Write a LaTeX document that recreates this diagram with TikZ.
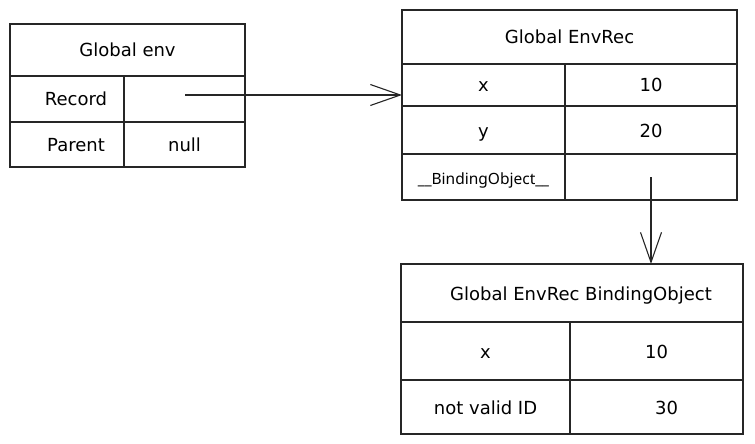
\documentclass[tikz,border=0pt]{standalone}
\usepackage{fontspec}
\setmainfont{DejaVu Sans}
\newfontfamily\plainsans{Noto Sans}
\usetikzlibrary{arrows.meta}

\begin{document}
\begin{tikzpicture}[
  x=1pt, y=-1pt,
  font=\fontsize{18}{21}\selectfont,
  cell/.style={draw=black!85, line width=1.1pt, inner sep=0pt, outer sep=0pt,
               text height=1.4em, text depth=0pt},
  ptr/.style={-{Straight Barb[length=30pt, width=21pt, line width=1.1pt]}, line width=1.1pt, black!85},
]
\useasboundingbox (0,0) rectangle (755,444);

% ---- global env -----------------------------------------------------------
\node[cell, minimum width=235pt, minimum height=52pt] (genv)   at (127.5,50)  {Global env};
\node[cell, minimum width=114pt, minimum height=46pt] (reckey) at (67,99)     {\hspace{18pt}Record};
\node[cell, minimum width=121pt, minimum height=46pt] (recval) at (184.5,99)  {};
\node[cell, minimum width=114pt, minimum height=45pt] (parkey) at (67,144.5)  {\hspace{18pt}Parent};
\node[cell, minimum width=121pt, minimum height=45pt] (parval) at (184.5,144.5){null};

% ---- global environment record --------------------------------------------
\node[cell, minimum width=335pt, minimum height=54pt] (envrec) at (569.5,37)  {Global EnvRec};
\node[cell, minimum width=163pt, minimum height=42pt] (xkey)   at (483.5,85)  {x};
\node[cell, minimum width=172pt, minimum height=42pt] (xval)   at (651,85)    {10};
\node[cell, minimum width=163pt, minimum height=48pt] (ykey)   at (483.5,130) {y};
\node[cell, minimum width=172pt, minimum height=48pt] (yval)   at (651,130)   {20};
\node[cell, minimum width=163pt, minimum height=46pt, font=\plainsans\fontsize{15.5}{18}\selectfont]
  (bkey) at (483.5,177) {\_\_BindingObject\_\_};
\node[cell, minimum width=172pt, minimum height=46pt] (bval)   at (651,177)   {};

% ---- binding object -------------------------------------------------------
\node[cell, minimum width=342pt, minimum height=58pt] (bobj)   at (572,293)   {\hspace{18pt}Global EnvRec BindingObject};
\node[cell, minimum width=169pt, minimum height=58pt] (boxkey) at (485.5,351) {x};
\node[cell, minimum width=173pt, minimum height=58pt] (boxval) at (656.5,351) {10};
\node[cell, minimum width=169pt, minimum height=54pt] (idkey)  at (485.5,407) {not valid ID};
\node[cell, minimum width=173pt, minimum height=54pt] (idval)  at (656.5,407) {\hspace{20pt}30};

% ---- pointers -------------------------------------------------------------
\coordinate (recptr) at (185,95);
\draw[ptr] (recptr) -- (recptr -| xkey.west);
\draw[ptr] (bval.center) -- (bval.center |- bobj.north);

\end{tikzpicture}
\end{document}
